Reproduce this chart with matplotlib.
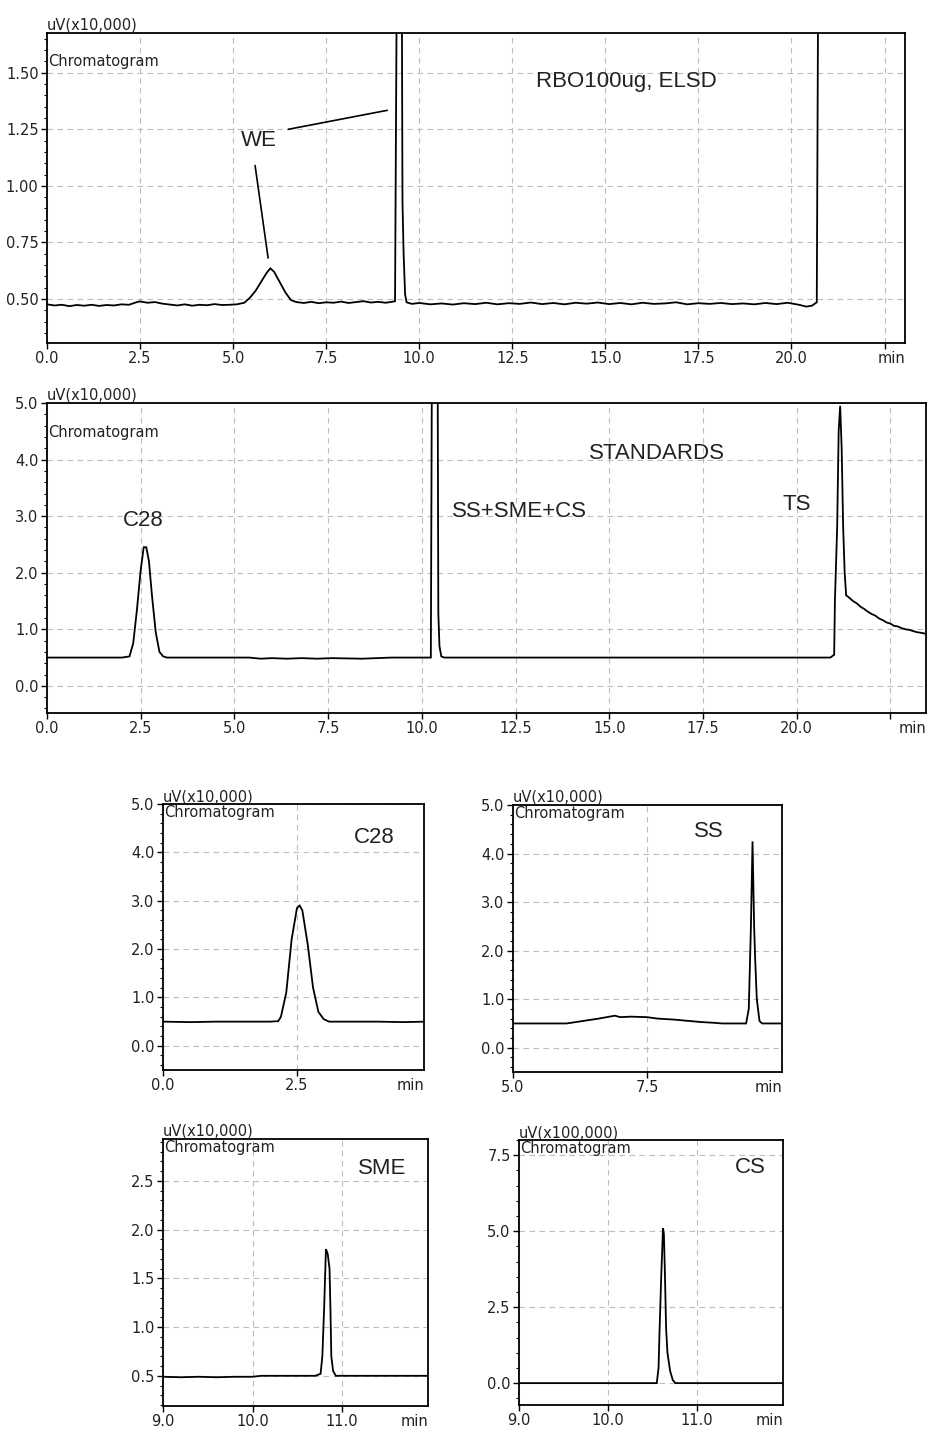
import matplotlib
matplotlib.use("Agg")
import matplotlib.pyplot as plt
from matplotlib.ticker import FixedLocator, MultipleLocator

# ---------------- data ----------------
# Panel 1: RBO100ug, ELSD
rbo_time = [0.0, 0.2, 0.4, 0.6, 0.8, 1.0, 1.2, 1.4, 1.6, 1.8,
            2.0, 2.2, 2.4, 2.5, 2.7, 2.9, 3.1, 3.3, 3.5, 3.7,
            3.9, 4.1, 4.3, 4.5, 4.7, 4.9, 5.1, 5.3, 5.45, 5.6,
            5.75, 5.9, 6.0, 6.1, 6.25, 6.4, 6.55, 6.7, 6.9, 7.1,
            7.3, 7.5, 7.7, 7.9, 8.1, 8.3, 8.5, 8.7, 8.9, 9.1,
            9.3, 9.35, 9.37, 9.40, 9.53, 9.55, 9.58, 9.62, 9.66, 9.8,
            10.0, 10.3, 10.6, 10.9, 11.2, 11.5, 11.8, 12.1, 12.4, 12.7,
            13.0, 13.3, 13.6, 13.9, 14.2, 14.5, 14.8, 15.1, 15.4, 15.7,
            16.0, 16.3, 16.6, 16.9, 17.2, 17.5, 17.8, 18.1, 18.4, 18.7,
            19.0, 19.3, 19.6, 19.9, 20.2, 20.4, 20.55, 20.68, 20.72]
rbo_signal = [0.476, 0.471, 0.474, 0.468, 0.473, 0.470, 0.474, 0.469, 0.473, 0.471,
              0.476, 0.474, 0.485, 0.489, 0.483, 0.486, 0.479, 0.475, 0.471, 0.476,
              0.470, 0.474, 0.472, 0.477, 0.473, 0.474, 0.476, 0.483, 0.505, 0.535,
              0.575, 0.615, 0.635, 0.620, 0.575, 0.530, 0.495, 0.486, 0.482, 0.487,
              0.481, 0.485, 0.483, 0.488, 0.482, 0.486, 0.490, 0.484, 0.487, 0.483,
              0.488, 0.490, 1.10, 2.00, 2.00, 0.93, 0.70, 0.52, 0.485, 0.478,
              0.482, 0.476, 0.480, 0.475, 0.481, 0.477, 0.483, 0.476, 0.481, 0.478,
              0.484, 0.477, 0.482, 0.476, 0.483, 0.479, 0.484, 0.477, 0.482, 0.476,
              0.483, 0.478, 0.480, 0.485, 0.476, 0.481, 0.478, 0.482, 0.477, 0.480,
              0.476, 0.482, 0.477, 0.483, 0.474, 0.466, 0.470, 0.485, 2.00]

# Panel 2: STANDARDS
std_time = [0.0, 1.0, 2.0, 2.2, 2.3, 2.4, 2.5, 2.58, 2.65, 2.72,
            2.8, 2.9, 3.0, 3.1, 3.2, 4.0, 5.4, 5.7, 6.0, 6.4,
            6.8, 7.2, 7.6, 8.4, 8.8, 9.2, 10.0, 10.24, 10.27, 10.42,
            10.44, 10.47, 10.52, 10.6, 12.0, 15.0, 18.0, 20.9, 21.0, 21.02,
            21.08, 21.12, 21.16, 21.2, 21.24, 21.28, 21.32, 21.4, 21.5, 21.6,
            21.7, 21.8, 21.9, 22.0, 22.1, 22.2, 22.3, 22.4, 22.5, 22.6,
            22.7, 22.8, 22.9, 23.0, 23.1, 23.2, 23.3, 23.45]
std_signal = [0.50, 0.50, 0.50, 0.52, 0.75, 1.35, 2.05, 2.45, 2.45, 2.20,
              1.60, 0.95, 0.60, 0.52, 0.50, 0.50, 0.50, 0.48, 0.49, 0.48,
              0.49, 0.48, 0.49, 0.48, 0.49, 0.50, 0.50, 0.50, 6.00, 6.00,
              1.28, 0.70, 0.52, 0.50, 0.50, 0.50, 0.50, 0.50, 0.55, 1.50,
              2.80, 4.50, 4.95, 4.20, 2.80, 2.00, 1.60, 1.56, 1.50, 1.46,
              1.40, 1.36, 1.31, 1.27, 1.24, 1.19, 1.16, 1.12, 1.10, 1.06,
              1.05, 1.02, 1.00, 0.99, 0.97, 0.95, 0.94, 0.92]

# Panel 3: C28
c28_time = [0.0, 0.5, 1.0, 1.5, 2.0, 2.15, 2.2, 2.3, 2.4, 2.5,
            2.55, 2.6, 2.7, 2.8, 2.9, 3.0, 3.1, 3.5, 4.0, 4.5, 4.9]
c28_signal = [0.50, 0.49, 0.50, 0.50, 0.50, 0.51, 0.60, 1.10, 2.20, 2.85,
              2.90, 2.80, 2.10, 1.20, 0.70, 0.55, 0.50, 0.50, 0.50, 0.49, 0.50]

# Panel 4: SS
ss_time = [5.0, 6.0, 6.3, 6.6, 6.9, 7.0, 7.2, 7.5, 7.7, 8.0,
           8.2, 8.5, 8.8, 8.9, 9.35, 9.4, 9.44, 9.47, 9.5, 9.52,
           9.55, 9.6, 9.65, 10.0]
ss_signal = [0.50, 0.50, 0.55, 0.60, 0.66, 0.63, 0.64, 0.63, 0.60, 0.58,
             0.56, 0.53, 0.51, 0.50, 0.50, 0.80, 2.50, 4.25, 2.50, 1.80,
             1.00, 0.55, 0.50, 0.50]

# Panel 5: SME
sme_time = [9.0, 9.2, 9.4, 9.6, 9.8, 10.0, 10.1, 10.7, 10.76, 10.78,
            10.8, 10.82, 10.84, 10.86, 10.87, 10.88, 10.9, 10.93, 12.0]
sme_signal = [0.49, 0.485, 0.49, 0.485, 0.49, 0.49, 0.50, 0.50, 0.52, 0.70,
              1.20, 1.80, 1.75, 1.60, 1.20, 0.70, 0.55, 0.50, 0.50]

# Panel 6: CS
cs_time = [9.0, 10.55, 10.57, 10.58, 10.6, 10.62, 10.63, 10.64, 10.655, 10.67,
           10.7, 10.73, 10.76, 12.0]
cs_signal = [0.0, 0.0, 0.5, 1.6, 3.5, 5.1, 4.9, 3.8, 1.8, 1.0,
             0.4, 0.1, 0.0, 0.0]

# ---------------- figure ----------------
W, H = 929, 1430
fig = plt.figure(figsize=(W / 100, H / 100), dpi=100)
fig.patch.set_facecolor("white")

TICK_FONT = "DejaVu Sans"
ANN_FONT = "Liberation Sans"
GRID_KW = dict(color="#bdbdbd", linestyle=(0, (5, 4)), linewidth=0.8)


def make_axes(px_left, px_top, px_right, px_bottom):
    return fig.add_axes([px_left / W, 1 - px_bottom / H,
                         (px_right - px_left) / W, (px_bottom - px_top) / H])


def style(ax, xlim, ylim, xticks, xlabels, yticks, ylabels, yminor, unit, chrom_drop):
    ax.set_xlim(*xlim)
    ax.set_ylim(*ylim)
    ax.xaxis.set_major_locator(FixedLocator(xticks))
    ax.set_xticklabels(xlabels)
    ax.yaxis.set_major_locator(FixedLocator(yticks))
    ax.set_yticklabels(ylabels)
    ax.yaxis.set_minor_locator(MultipleLocator(yminor))
    ax.tick_params(axis="both", which="major", direction="out", length=4,
                   width=1, labelsize=10.5, pad=2)
    ax.tick_params(axis="y", which="minor", direction="out", length=2, width=0.8)
    for lab in ax.get_xticklabels() + ax.get_yticklabels():
        lab.set_fontfamily(TICK_FONT)
        lab.set_color("#222222")
    for sp in ax.spines.values():
        sp.set_linewidth(1.3)
        sp.set_color("black")
    ax.grid(True, which="major", **GRID_KW)
    ax.set_axisbelow(True)
    ax.text(0.0, 1.0, unit, transform=ax.transAxes, ha="left", va="bottom",
            fontsize=10.5, family=TICK_FONT, color="#222222")
    ax.annotate("Chromatogram", xy=(0.0, 1.0), xycoords="axes fraction",
                xytext=(1, -chrom_drop), textcoords="offset pixels", ha="left",
                va="top", fontsize=10.5, family=TICK_FONT, color="#222222")
    ax.annotate("min", xy=(1.0, 0.0), xycoords="axes fraction",
                xytext=(0, -6), textcoords="offset points", ha="right",
                va="top", fontsize=10.5, family=TICK_FONT, color="#222222")


def trace(ax, t, y):
    ax.plot(t, y, color="black", linewidth=1.3, solid_joinstyle="miter")


ann_kw = dict(fontsize=16, family=ANN_FONT, color="#222222", ha="center", va="center")

# Panel 1
ax1 = make_axes(47, 33, 905, 343)
trace(ax1, rbo_time, rbo_signal)
xt = [0, 2.5, 5, 7.5, 10, 12.5, 15, 17.5, 20, 22.5]
style(ax1, (0, 23.05), (0.305, 1.676), xt,
      ["0.0", "2.5", "5.0", "7.5", "10.0", "12.5", "15.0", "17.5", "20.0", ""],
      [0.5, 0.75, 1.0, 1.25, 1.5], ["0.50", "0.75", "1.00", "1.25", "1.50"],
      0.05, "uV(x10,000)", 21)
ax1.text(15.56, 1.46, "RBO100ug, ELSD", **ann_kw)
ax1.text(5.7, 1.20, "WE", **ann_kw)
ax1.annotate("", xy=(9.14, 1.334), xytext=(6.48, 1.25),
             arrowprops=dict(arrowstyle="-", color="black", lw=1.2, shrinkA=0, shrinkB=0))
ax1.annotate("", xy=(5.94, 0.681), xytext=(5.59, 1.09),
             arrowprops=dict(arrowstyle="-", color="black", lw=1.2, shrinkA=0, shrinkB=0))

# Panel 2
ax2 = make_axes(47, 403, 926, 713)
trace(ax2, std_time, std_signal)
style(ax2, (0, 23.45), (-0.48, 5.0), xt,
      ["0.0", "2.5", "5.0", "7.5", "10.0", "12.5", "15.0", "17.5", "20.0", ""],
      [0, 1, 2, 3, 4, 5], ["0.0", "1.0", "2.0", "3.0", "4.0", "5.0"],
      0.2, "uV(x10,000)", 22)
ax2.text(2.56, 2.93, "C28", **ann_kw)
ax2.text(12.6, 3.09, "SS+SME+CS", **ann_kw)
ax2.text(16.27, 4.10, "STANDARDS", **ann_kw)
ax2.text(20.0, 3.20, "TS", **ann_kw)

# Panel 3
ax3 = make_axes(163, 804, 424, 1070)
trace(ax3, c28_time, c28_signal)
style(ax3, (0, 4.87), (-0.5, 5.0), [0, 2.5], ["0.0", "2.5"],
      [0, 1, 2, 3, 4, 5], ["0.0", "1.0", "2.0", "3.0", "4.0", "5.0"],
      0.2, "uV(x10,000)", 1)
ax3.text(3.95, 4.3, "C28", **ann_kw)

# Panel 4
ax4 = make_axes(513, 805, 782, 1072)
trace(ax4, ss_time, ss_signal)
style(ax4, (5.0, 10.02), (-0.5, 5.0), [5.0, 7.5], ["5.0", "7.5"],
      [0, 1, 2, 3, 4, 5], ["0.0", "1.0", "2.0", "3.0", "4.0", "5.0"],
      0.2, "uV(x10,000)", 1)
ax4.text(8.65, 4.45, "SS", **ann_kw)

# Panel 5
ax5 = make_axes(163, 1139, 428, 1406)
trace(ax5, sme_time, sme_signal)
style(ax5, (9.0, 11.96), (0.19, 2.93), [9, 10, 11], ["9.0", "10.0", "11.0"],
      [0.5, 1.0, 1.5, 2.0, 2.5], ["0.5", "1.0", "1.5", "2.0", "2.5"],
      0.1, "uV(x10,000)", 1)
ax5.text(11.45, 2.63, "SME", **ann_kw)

# Panel 6
ax6 = make_axes(519, 1140, 783, 1405)
trace(ax6, cs_time, cs_signal)
style(ax6, (9.0, 11.97), (-0.72, 8.0), [9, 10, 11], ["9.0", "10.0", "11.0"],
      [0, 2.5, 5.0, 7.5], ["0.0", "2.5", "5.0", "7.5"],
      0.5, "uV(x100,000)", 1)
ax6.text(11.6, 7.1, "CS", **ann_kw)

fig.savefig("out.png", dpi=100, facecolor="white")
